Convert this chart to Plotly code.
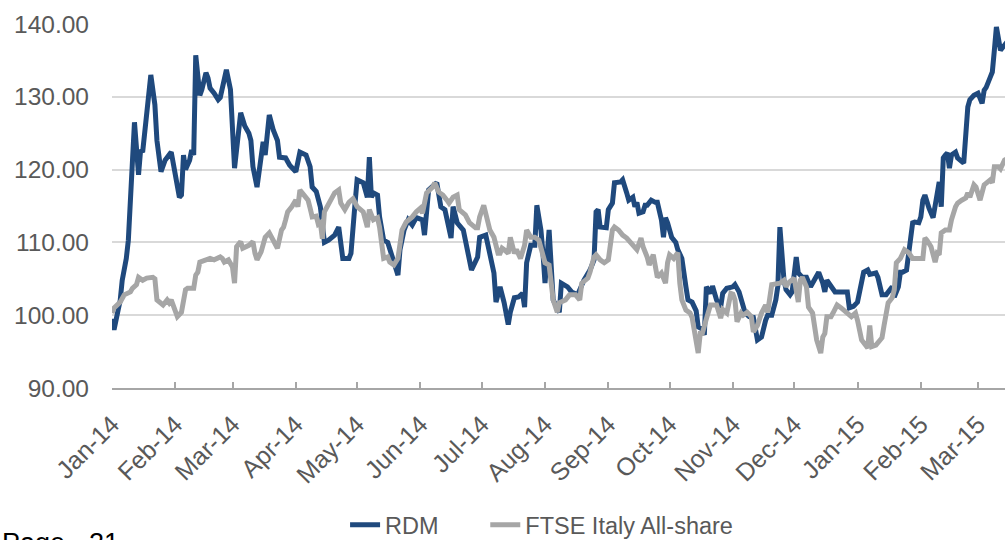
import plotly.graph_objects as go

# RDM share price, rebased to 100 at the start of 2014
rdm_points = [
    ("2014-01-01", 99.5), ("2014-01-02", 98.0), ("2014-01-04", 100.7), ("2014-01-05", 102.0),
    ("2014-01-06", 104.8), ("2014-01-08", 107.8), ("2014-01-09", 110.3), ("2014-01-10", 116.5),
    ("2014-01-12", 126.5), ("2014-01-14", 119.3), ("2014-01-15", 122.7), ("2014-01-16", 122.4),
    ("2014-01-18", 128.2), ("2014-01-20", 133.0), ("2014-01-22", 128.9), ("2014-01-23", 124.0),
    ("2014-01-25", 119.7), ("2014-01-27", 121.3), ("2014-01-30", 122.4), ("2014-02-01", 119.3),
    ("2014-02-03", 116.2), ("2014-02-04", 116.5), ("2014-02-05", 122.0), ("2014-02-06", 120.0),
    ("2014-02-08", 121.3), ("2014-02-09", 122.7), ("2014-02-10", 122.0), ("2014-02-11", 135.7),
    ("2014-02-13", 130.2), ("2014-02-14", 131.0), ("2014-02-16", 133.3), ("2014-02-17", 132.6),
    ("2014-02-18", 131.2), ("2014-02-20", 130.5), ("2014-02-22", 129.6), ("2014-02-23", 129.9),
    ("2014-02-25", 132.3), ("2014-02-26", 133.7), ("2014-02-28", 131.0), ("2014-03-01", 125.4),
    ("2014-03-02", 120.2), ("2014-03-05", 127.8), ("2014-03-07", 126.0), ("2014-03-09", 125.0),
    ("2014-03-10", 124.0), ("2014-03-11", 120.4), ("2014-03-13", 117.6), ("2014-03-16", 123.8),
    ("2014-03-17", 122.0), ("2014-03-19", 127.5), ("2014-03-21", 125.4), ("2014-03-23", 124.0),
    ("2014-03-24", 121.7), ("2014-03-27", 121.6), ("2014-03-29", 120.6), ("2014-04-01", 119.7),
    ("2014-04-03", 122.4), ("2014-04-06", 122.0), ("2014-04-08", 120.4), ("2014-04-09", 117.6),
    ("2014-04-11", 117.0), ("2014-04-13", 114.9), ("2014-04-15", 110.0), ("2014-04-17", 110.3),
    ("2014-04-20", 111.0), ("2014-04-22", 112.1), ("2014-04-23", 110.3), ("2014-04-24", 107.8),
    ("2014-04-27", 107.8), ("2014-04-28", 108.5), ("2014-04-30", 115.4), ("2014-05-01", 118.6),
    ("2014-05-04", 118.2), ("2014-05-06", 116.2), ("2014-05-07", 121.7), ("2014-05-08", 116.2),
    ("2014-05-09", 116.8), ("2014-05-11", 116.5), ("2014-05-12", 113.5), ("2014-05-14", 110.3),
    ("2014-05-16", 110.0), ("2014-05-18", 108.0), ("2014-05-21", 105.5), ("2014-05-22", 109.0),
    ("2014-05-24", 111.7), ("2014-05-26", 113.1), ("2014-05-28", 112.4), ("2014-05-30", 113.4),
    ("2014-06-02", 113.1), ("2014-06-03", 111.0), ("2014-06-05", 117.2), ("2014-06-09", 118.2),
    ("2014-06-11", 114.9), ("2014-06-13", 114.5), ("2014-06-15", 111.7), ("2014-06-16", 110.6),
    ("2014-06-17", 114.9), ("2014-06-19", 112.7), ("2014-06-22", 111.7), ("2014-06-24", 108.5),
    ("2014-06-26", 106.2), ("2014-06-29", 108.0), ("2014-06-30", 110.7), ("2014-07-03", 111.0),
    ("2014-07-05", 108.0), ("2014-07-07", 105.8), ("2014-07-08", 101.8), ("2014-07-10", 103.9),
    ("2014-07-12", 101.7), ("2014-07-14", 98.7), ("2014-07-15", 100.4), ("2014-07-17", 102.4),
    ("2014-07-19", 102.5), ("2014-07-21", 103.0), ("2014-07-22", 101.1), ("2014-07-23", 107.2),
    ("2014-07-25", 109.6), ("2014-07-27", 109.6), ("2014-07-28", 115.1), ("2014-07-30", 111.7),
    ("2014-07-31", 108.5), ("2014-08-01", 104.4), ("2014-08-02", 108.0), ("2014-08-03", 111.7),
    ("2014-08-05", 102.1), ("2014-08-08", 100.4), ("2014-08-09", 104.4), ("2014-08-12", 103.9),
    ("2014-08-14", 103.2), ("2014-08-17", 102.8), ("2014-08-20", 104.8), ("2014-08-23", 106.2),
    ("2014-08-25", 107.6), ("2014-08-26", 114.2), ("2014-08-27", 114.5), ("2014-08-28", 112.1),
    ("2014-08-31", 112.0), ("2014-09-01", 114.5), ("2014-09-03", 115.4), ("2014-09-04", 118.2),
    ("2014-09-07", 118.3), ("2014-09-08", 118.6), ("2014-09-10", 116.8), ("2014-09-11", 115.8),
    ("2014-09-13", 116.2), ("2014-09-14", 114.9), ("2014-09-15", 115.5), ("2014-09-16", 114.0),
    ("2014-09-18", 114.2), ("2014-09-19", 115.1), ("2014-09-20", 115.1), ("2014-09-22", 115.8),
    ("2014-09-24", 115.5), ("2014-09-25", 115.5), ("2014-09-27", 113.1), ("2014-09-28", 110.7),
    ("2014-09-29", 113.4), ("2014-09-30", 112.7), ("2014-10-02", 110.7), ("2014-10-04", 110.0),
    ("2014-10-05", 109.0), ("2014-10-07", 107.8), ("2014-10-09", 103.9), ("2014-10-10", 102.1),
    ("2014-10-12", 101.8), ("2014-10-14", 100.6), ("2014-10-15", 98.4), ("2014-10-17", 98.1),
    ("2014-10-18", 97.3), ("2014-10-19", 103.9), ("2014-10-21", 103.0), ("2014-10-22", 104.0),
    ("2014-10-24", 102.1), ("2014-10-26", 101.1), ("2014-10-27", 103.0), ("2014-10-29", 103.7),
    ("2014-11-01", 103.9), ("2014-11-02", 104.2), ("2014-11-04", 103.2), ("2014-11-06", 101.4),
    ("2014-11-07", 100.3), ("2014-11-09", 99.8), ("2014-11-11", 99.7), ("2014-11-13", 96.6),
    ("2014-11-15", 97.0), ("2014-11-17", 99.3), ("2014-11-18", 100.0), ("2014-11-20", 100.0),
    ("2014-11-22", 102.1), ("2014-11-23", 104.0), ("2014-11-24", 112.1), ("2014-11-26", 104.8),
    ("2014-11-27", 103.5), ("2014-11-29", 102.8), ("2014-11-30", 103.2), ("2014-12-02", 108.0),
    ("2014-12-03", 105.8), ("2014-12-05", 105.2), ("2014-12-07", 105.2), ("2014-12-09", 103.9),
    ("2014-12-10", 104.4), ("2014-12-13", 105.9), ("2014-12-15", 104.4), ("2014-12-16", 103.2),
    ("2014-12-17", 104.8), ("2014-12-20", 103.7), ("2014-12-21", 103.2), ("2014-12-27", 103.2),
    ("2014-12-28", 101.0), ("2014-12-30", 101.2), ("2015-01-01", 101.8), ("2015-01-04", 105.9),
    ("2015-01-06", 106.2), ("2015-01-07", 105.6), ("2015-01-10", 105.8), ("2015-01-11", 105.2),
    ("2015-01-12", 104.2), ("2015-01-13", 102.8), ("2015-01-15", 102.8), ("2015-01-16", 103.2),
    ("2015-01-18", 103.9), ("2015-01-19", 102.5), ("2015-01-21", 103.9), ("2015-01-22", 105.9),
    ("2015-01-23", 105.9), ("2015-01-25", 106.2), ("2015-01-26", 108.5), ("2015-01-28", 112.7),
    ("2015-01-29", 112.8), ("2015-01-31", 112.7), ("2015-02-01", 113.5), ("2015-02-02", 115.8),
    ("2015-02-03", 116.5), ("2015-02-04", 115.5), ("2015-02-05", 114.7), ("2015-02-07", 113.4),
    ("2015-02-09", 116.9), ("2015-02-10", 118.3), ("2015-02-11", 114.9), ("2015-02-12", 121.6),
    ("2015-02-13", 122.0), ("2015-02-14", 122.3), ("2015-02-15", 120.2), ("2015-02-16", 122.0),
    ("2015-02-18", 122.4), ("2015-02-19", 121.6), ("2015-02-22", 120.9), ("2015-02-23", 124.0),
    ("2015-02-24", 128.6), ("2015-02-25", 129.6), ("2015-02-27", 130.2), ("2015-03-01", 130.5),
    ("2015-03-03", 129.1), ("2015-03-04", 130.9), ("2015-03-05", 131.3), ("2015-03-07", 132.7),
    ("2015-03-08", 133.4), ("2015-03-09", 136.4), ("2015-03-10", 139.6), ("2015-03-12", 136.4),
    ("2015-03-13", 136.8), ("2015-03-14", 137.3), ("2015-03-16", 137.8),
]

# FTSE Italy All-share index, rebased to 100 at the start of 2014
ftse_points = [
    ("2014-01-01", 100.3), ("2014-01-02", 101.0), ("2014-01-05", 101.8), ("2014-01-07", 102.8),
    ("2014-01-10", 103.2), ("2014-01-11", 103.7), ("2014-01-13", 104.2), ("2014-01-14", 105.2),
    ("2014-01-16", 104.8), ("2014-01-18", 105.1), ("2014-01-21", 105.2), ("2014-01-22", 105.0),
    ("2014-01-23", 102.1), ("2014-01-26", 101.4), ("2014-01-28", 102.1), ("2014-01-29", 101.7),
    ("2014-01-30", 102.1), ("2014-02-01", 100.7), ("2014-02-02", 99.8), ("2014-02-04", 100.4),
    ("2014-02-06", 103.5), ("2014-02-07", 103.7), ("2014-02-10", 103.7), ("2014-02-11", 105.5),
    ("2014-02-12", 105.9), ("2014-02-13", 107.3), ("2014-02-16", 107.7), ("2014-02-18", 107.8),
    ("2014-02-20", 107.6), ("2014-02-23", 108.0), ("2014-02-24", 107.8), ("2014-02-25", 107.3),
    ("2014-02-27", 107.6), ("2014-03-01", 106.6), ("2014-03-02", 104.4), ("2014-03-03", 109.4),
    ("2014-03-05", 110.1), ("2014-03-06", 109.2), ("2014-03-09", 109.6), ("2014-03-11", 110.1),
    ("2014-03-12", 108.5), ("2014-03-13", 107.6), ("2014-03-15", 108.7), ("2014-03-17", 110.7),
    ("2014-03-19", 111.3), ("2014-03-21", 110.1), ("2014-03-23", 109.2), ("2014-03-25", 111.7),
    ("2014-03-26", 112.1), ("2014-03-27", 113.1), ("2014-03-28", 114.2), ("2014-03-30", 114.9),
    ("2014-04-01", 115.8), ("2014-04-02", 114.9), ("2014-04-03", 117.2), ("2014-04-05", 116.5),
    ("2014-04-07", 115.8), ("2014-04-08", 114.7), ("2014-04-09", 113.5), ("2014-04-11", 113.6),
    ("2014-04-12", 112.5), ("2014-04-13", 112.7), ("2014-04-14", 110.5), ("2014-04-15", 114.2),
    ("2014-04-18", 115.8), ("2014-04-20", 116.8), ("2014-04-22", 117.2), ("2014-04-23", 115.4),
    ("2014-04-25", 114.5), ("2014-04-27", 115.5), ("2014-04-29", 116.0), ("2014-05-01", 114.9),
    ("2014-05-04", 114.2), ("2014-05-06", 112.1), ("2014-05-07", 114.5), ("2014-05-09", 113.1),
    ("2014-05-11", 113.4), ("2014-05-12", 112.1), ("2014-05-14", 107.8), ("2014-05-16", 108.0),
    ("2014-05-17", 107.3), ("2014-05-19", 106.9), ("2014-05-21", 107.8), ("2014-05-22", 110.0),
    ("2014-05-23", 111.7), ("2014-05-25", 112.8), ("2014-05-28", 113.5), ("2014-05-30", 114.2),
    ("2014-06-01", 114.7), ("2014-06-02", 114.0), ("2014-06-04", 116.8), ("2014-06-07", 117.6),
    ("2014-06-08", 118.2), ("2014-06-10", 116.9), ("2014-06-12", 116.5), ("2014-06-14", 115.8),
    ("2014-06-15", 115.4), ("2014-06-17", 116.2), ("2014-06-19", 116.5), ("2014-06-20", 114.5),
    ("2014-06-23", 113.8), ("2014-06-25", 112.7), ("2014-06-28", 112.0), ("2014-06-29", 112.0),
    ("2014-06-30", 113.5), ("2014-07-02", 115.1), ("2014-07-04", 113.1), ("2014-07-05", 111.7),
    ("2014-07-07", 110.7), ("2014-07-09", 108.5), ("2014-07-10", 108.5), ("2014-07-11", 109.2),
    ("2014-07-12", 109.0), ("2014-07-14", 108.5), ("2014-07-15", 110.7), ("2014-07-17", 108.5),
    ("2014-07-18", 109.0), ("2014-07-20", 107.8), ("2014-07-22", 109.6), ("2014-07-23", 111.7),
    ("2014-07-25", 110.7), ("2014-07-27", 110.7), ("2014-07-29", 110.3), ("2014-07-31", 108.5),
    ("2014-08-01", 107.2), ("2014-08-03", 106.9), ("2014-08-05", 102.1), ("2014-08-07", 100.4),
    ("2014-08-08", 101.7), ("2014-08-11", 102.1), ("2014-08-13", 102.8), ("2014-08-16", 102.8),
    ("2014-08-18", 102.1), ("2014-08-19", 104.4), ("2014-08-22", 105.1), ("2014-08-23", 105.9),
    ("2014-08-25", 108.0), ("2014-08-26", 108.3), ("2014-08-28", 107.6), ("2014-08-30", 107.2),
    ("2014-09-01", 107.6), ("2014-09-03", 111.7), ("2014-09-04", 112.1), ("2014-09-06", 111.7),
    ("2014-09-08", 111.0), ("2014-09-10", 110.6), ("2014-09-13", 109.6), ("2014-09-15", 109.0),
    ("2014-09-17", 110.6), ("2014-09-18", 109.4), ("2014-09-20", 108.0), ("2014-09-21", 106.9),
    ("2014-09-23", 108.3), ("2014-09-25", 105.2), ("2014-09-27", 105.8), ("2014-09-29", 104.4),
    ("2014-09-30", 107.2), ("2014-10-01", 108.3), ("2014-10-03", 107.8), ("2014-10-05", 108.6),
    ("2014-10-06", 104.4), ("2014-10-07", 102.1), ("2014-10-09", 100.7), ("2014-10-11", 100.3),
    ("2014-10-12", 99.7), ("2014-10-13", 98.0), ("2014-10-14", 95.5), ("2014-10-15", 94.8),
    ("2014-10-16", 97.5), ("2014-10-17", 97.5), ("2014-10-19", 99.5), ("2014-10-21", 101.4),
    ("2014-10-22", 101.4), ("2014-10-24", 101.4), ("2014-10-26", 99.6), ("2014-10-27", 100.8),
    ("2014-10-29", 100.3), ("2014-10-31", 103.0), ("2014-11-01", 102.9), ("2014-11-02", 102.1),
    ("2014-11-03", 99.1), ("2014-11-05", 100.3), ("2014-11-06", 100.0), ("2014-11-08", 100.4),
    ("2014-11-10", 99.8), ("2014-11-11", 97.7), ("2014-11-13", 98.6), ("2014-11-15", 100.3),
    ("2014-11-17", 101.4), ("2014-11-18", 100.4), ("2014-11-20", 104.2), ("2014-11-23", 104.4),
    ("2014-11-24", 104.4), ("2014-11-26", 104.8), ("2014-11-27", 103.9), ("2014-11-28", 104.4),
    ("2014-11-30", 104.8), ("2014-12-01", 105.1), ("2014-12-03", 101.8), ("2014-12-04", 104.8),
    ("2014-12-05", 105.2), ("2014-12-07", 103.9), ("2014-12-08", 101.1), ("2014-12-10", 100.3),
    ("2014-12-12", 96.6), ("2014-12-14", 94.8), ("2014-12-15", 97.0), ("2014-12-16", 97.5),
    ("2014-12-17", 99.8), ("2014-12-19", 99.8), ("2014-12-20", 100.3), ("2014-12-22", 101.4),
    ("2014-12-24", 101.0), ("2014-12-27", 100.4), ("2014-12-29", 99.8), ("2014-12-31", 100.3),
    ("2015-01-01", 99.3), ("2015-01-03", 96.6), ("2015-01-05", 95.7), ("2015-01-06", 95.5),
    ("2015-01-07", 98.6), ("2015-01-08", 95.7), ("2015-01-10", 95.9), ("2015-01-11", 96.3),
    ("2015-01-13", 96.9), ("2015-01-14", 98.6), ("2015-01-15", 100.7), ("2015-01-16", 101.7),
    ("2015-01-18", 102.4), ("2015-01-19", 103.5), ("2015-01-20", 107.2), ("2015-01-22", 107.8),
    ("2015-01-24", 109.0), ("2015-01-26", 108.6), ("2015-01-28", 107.8), ("2015-01-31", 107.8),
    ("2015-02-02", 107.8), ("2015-02-03", 110.6), ("2015-02-04", 110.3), ("2015-02-06", 109.4),
    ("2015-02-07", 108.3), ("2015-02-08", 107.3), ("2015-02-09", 108.5), ("2015-02-10", 108.3),
    ("2015-02-11", 111.3), ("2015-02-13", 111.7), ("2015-02-15", 111.7), ("2015-02-16", 113.1),
    ("2015-02-18", 114.9), ("2015-02-19", 115.4), ("2015-02-21", 115.8), ("2015-02-23", 116.1),
    ("2015-02-24", 116.8), ("2015-02-25", 116.2), ("2015-02-27", 117.9), ("2015-02-28", 117.6),
    ("2015-03-02", 115.8), ("2015-03-03", 117.2), ("2015-03-04", 117.9), ("2015-03-07", 118.6),
    ("2015-03-08", 118.2), ("2015-03-09", 120.4), ("2015-03-11", 120.4), ("2015-03-12", 120.1),
    ("2015-03-13", 120.9), ("2015-03-14", 121.3), ("2015-03-16", 121.6),
]

rdm_dates = [d for d, _ in rdm_points]
rdm_values = [v for _, v in rdm_points]
ftse_dates = [d for d, _ in ftse_points]
ftse_values = [v for _, v in ftse_points]

series_names = ["RDM", "FTSE Italy All-share"]
y_ticks = [90, 100, 110, 120, 130, 140]

BLUE = "#1F497D"
GREY = "#A6A6A6"
TEXT = "#595959"
FONT = "Liberation Sans, Arial, sans-serif"

fig = go.Figure()
fig.add_trace(go.Scatter(
    x=rdm_dates, y=rdm_values, name=series_names[0], mode="lines",
    line=dict(color=BLUE, width=5), legend="legend",
))
fig.add_trace(go.Scatter(
    x=ftse_dates, y=ftse_values, name=series_names[1], mode="lines",
    line=dict(color=GREY, width=5), legend="legend2",
))

legend_style = dict(
    orientation="h", xanchor="left", y=-0.376, yanchor="middle",
    font=dict(size=23.5, color=TEXT), bgcolor="rgba(0,0,0,0)",
)

fig.update_layout(
    width=1005, height=540,
    margin=dict(l=112, r=0, t=24, b=152, autoexpand=False),
    paper_bgcolor="white", plot_bgcolor="white",
    font=dict(family=FONT, color=TEXT, size=22),
    showlegend=True,
    legend=dict(x=0.261, **legend_style),
    legend2=dict(x=0.418, **legend_style),
    annotations=[dict(
        text="Page - 21", xref="paper", yref="paper",
        x=-0.1254, xanchor="left", y=-0.379, yanchor="top",
        showarrow=False, font=dict(size=27, color="black", family=FONT),
    )],
)

fig.update_xaxes(
    type="date", range=["2014-01-01", "2015-03-14 05:00"], automargin=False,
    tick0="2014-01-01", dtick="M1", tickformat="%b-%y", tickangle=-45,
    showgrid=False, showline=True, linecolor="#A6A6A6", linewidth=1.5,
    ticks="inside", ticklen=6, tickwidth=1.5, tickcolor="#A6A6A6",
    tickfont=dict(size=25, color=TEXT), ticklabelstandoff=10,
    zeroline=False,
)
fig.update_yaxes(
    range=[90, 140], tickvals=y_ticks, tickformat=".2f", automargin=False,
    showgrid=True, gridcolor="#D9D9D9", gridwidth=1.5,
    showline=False, ticks="", zeroline=False,
    tickfont=dict(size=24.5, color=TEXT), ticklabelstandoff=22,
)

fig.write_html("out.html")
